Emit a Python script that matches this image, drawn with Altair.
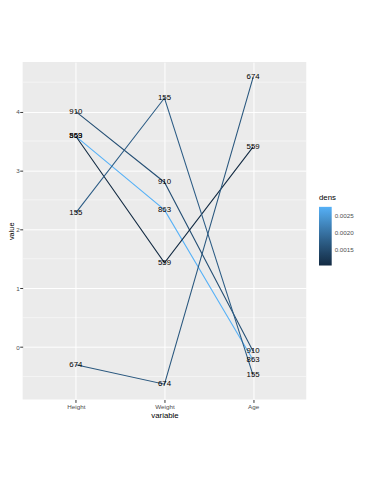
import altair as alt
import pandas as pd

variables = ["Height", "Weight", "Age"]
ids = ["910", "863", "559", "155", "674"]
height_vals = [4.00, 3.58, 3.58, 2.28, -0.30]
weight_vals = [2.80, 2.33, 1.43, 4.23, -0.63]
age_vals = [-0.07, -0.22, 3.40, -0.48, 4.58]
dens_vals = [0.00155, 0.00276, 0.00104, 0.00172, 0.00165]
minor_breaks = [-0.5, 0.5, 1.5, 2.5, 3.5, 4.5]
y_breaks = [0, 1, 2, 3, 4]
legend_breaks = [0.0015, 0.002, 0.0025]

rows = []
for i, pid in enumerate(ids):
    for var, vals in zip(variables, [height_vals, weight_vals, age_vals]):
        rows.append({"id": pid, "variable": var, "value": vals[i], "dens": dens_vals[i]})
df = pd.DataFrame(rows)
minor_df = pd.DataFrame({"value": minor_breaks})

FONT = "Liberation Sans"

x_enc = alt.X("variable:O", sort=variables, title="variable",
              scale=alt.Scale(type="point", padding=0.6),
              axis=alt.Axis(labelAngle=0, grid=True, gridColor="white", gridWidth=1,
                            tickColor="#333333", tickSize=3, domain=False,
                            labelFont=FONT, labelFontSize=6.4, labelColor="#4D4D4D",
                            labelPadding=1, titleFont=FONT, titleFontSize=8,
                            titleFontWeight="normal", titleColor="black", titlePadding=2))
y_scale = alt.Scale(domain=[-0.89, 4.84], nice=False, zero=False)
y_axis = alt.Axis(values=y_breaks, format="d", grid=True, gridColor="white", gridWidth=1,
                  tickColor="#333333", tickSize=3, domain=False,
                  labelFont=FONT, labelFontSize=6.4, labelColor="#4D4D4D",
                  labelPadding=0.5, titleFont=FONT, titleFontSize=7.5,
                  titleFontWeight="normal", titleColor="black",
                  titleX=-7, titleBaseline="bottom")
y_enc = alt.Y("value:Q", title="value", scale=y_scale, axis=y_axis)

minor = alt.Chart(minor_df).mark_rule(color="white", strokeWidth=0.5).encode(
    y=y_enc
)

lines = alt.Chart(df).mark_line(strokeWidth=1.1).encode(
    x=x_enc,
    y=y_enc,
    detail="id:N",
    color=alt.Color("dens:Q",
                    scale=alt.Scale(domain=[min(dens_vals), max(dens_vals)],
                                    range=["#132B43", "#56B1F7"], interpolate="lab"),
                    legend=alt.Legend(title="dens", values=legend_breaks, format=".4f",
                                      orient="none", legendX=303, legendY=135,
                                      gradientLength=60, gradientThickness=13,
                                      gradientStrokeWidth=0,
                                      titleFont=FONT, titleFontSize=8, titleFontWeight="normal",
                                      titleColor="black", titlePadding=5,
                                      labelFont=FONT, labelFontSize=6.4, labelColor="#4D4D4D",
                                      labelOffset=3)),
)

labels = alt.Chart(df).mark_text(font=FONT, fontSize=8, color="black", baseline="middle").encode(
    x=alt.X("variable:O", sort=variables),
    y=alt.Y("value:Q"),
    text="id:N",
)

chart = alt.layer(minor, lines, labels).properties(
    width=290, height=345,
    autosize=alt.AutoSizeParams(type="none"),
    padding={"left": 15, "top": 50, "right": 58, "bottom": 77},
    background="white",
).configure_view(fill="#EBEBEB", stroke=None)

chart.save("out.html", embed_options={"renderer": "svg", "actions": False})
